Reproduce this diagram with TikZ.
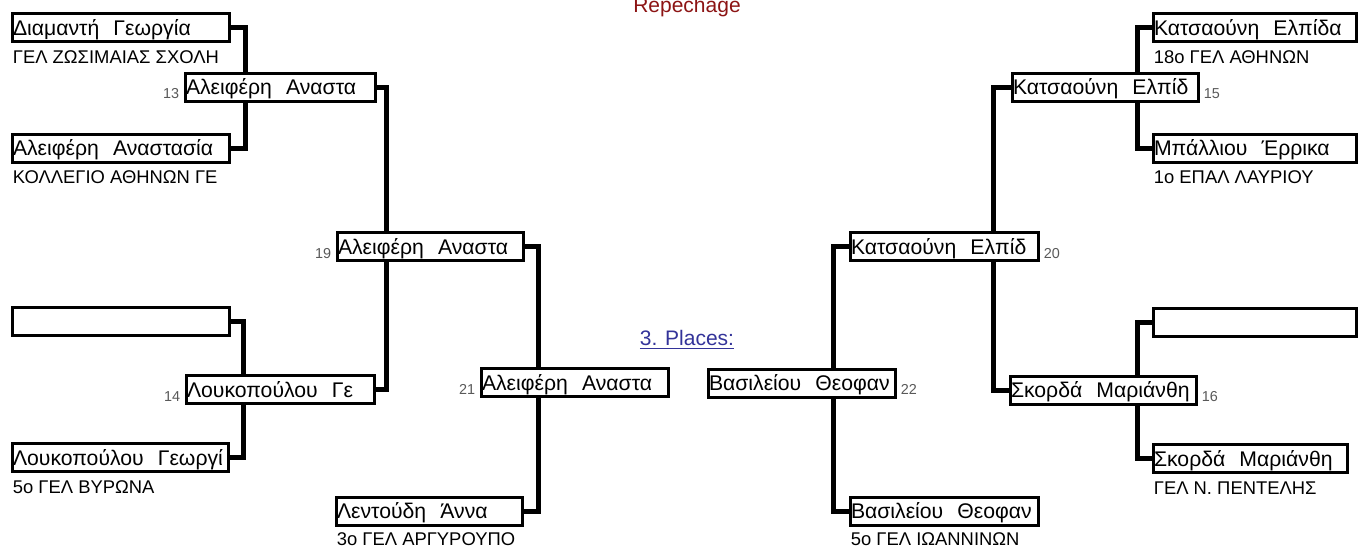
\documentclass[tikz,border=0pt]{standalone}
\usepackage{fontspec}
\setmainfont{Liberation Sans}
\usetikzlibrary{backgrounds}
\definecolor{repred}{RGB}{140,20,20}
\definecolor{placeblue}{RGB}{51,51,153}
\def\unit{0.5pt}

\begin{document}
\begin{tikzpicture}[x=\unit, y=-\unit,
    player/.style={draw, fill=white, line width=1.5pt, anchor=west, minimum height=14pt,
      inner xsep=0.5pt, inner ysep=0pt, text width=#1, align=left,
      text height=8.6pt, text depth=1pt, font=\fontsize{10.6}{12}\selectfont},
    school/.style={anchor=base west, inner sep=0pt, font=\fontsize{9.2}{10}\selectfont},
    seedleft/.style={anchor=base east, inner sep=0pt, text=black!65, font=\fontsize{7.2}{8}\selectfont},
    seedright/.style={anchor=base west, inner sep=0pt, text=black!65, font=\fontsize{7.2}{8}\selectfont},
    link/.style={line width=2.5pt}]
      \useasboundingbox (0,0) rectangle (1365,547);
      \node[anchor=base, text=repred, font=\fontsize{10.5}{12}\selectfont] (rep) at (687, 12) {Repechage};
      \node[anchor=base, text=placeblue, font=\fontsize{10.5}{12}\selectfont] (places) at (687, 345) {\underline{3. Places:}};
      % left half
      \node[player=107.5pt] (p1) at (10.5, 27.5) {Διαμαντή~~Γεωργία};
      \node[player=107.5pt] (p2) at (10.5, 148) {Αλειφέρη~~Αναστασία};
      \node[player=107.5pt] (p3) at (10.5, 321.5) {};
      \node[player=107pt] (p4) at (10.5, 457.5) {Λουκοπούλου~~Γεωργί};
      \node[player=94pt] (w13) at (183.5, 87) {Αλειφέρη~~Αναστα};
      \node[player=93pt] (w14) at (184.5, 389.5) {Λουκοπούλου~~Γε};
      \node[player=92pt] (w19) at (335.5, 246.5) {Αλειφέρη~~Αναστα};
      \node[player=92pt] (p5) at (334.5, 511) {Λεντούδη~~Άννα};
      \node[player=92.5pt] (w21) at (479.5, 382.5) {Αλειφέρη~~Αναστα};
      % right half
      \node[player=100.5pt] (p6) at (1151.5, 27.5) {Κατσαούνη~~Ελπίδα};
      \node[player=100.5pt] (p7) at (1151.5, 148) {Μπάλλιου~~Έρρικα};
      \node[player=100.5pt] (p8) at (1151.5, 322.5) {};
      \node[player=96pt] (p9) at (1151.5, 458.5) {Σκορδά~~Μαριάνθη};
      \node[player=92pt] (w15) at (1010.5, 87) {Κατσαούνη~~Ελπίδ};
      \node[player=92pt] (w16) at (1008.5, 390) {Σκορδά~~Μαριάνθη};
      \node[player=93pt] (w20) at (848.5, 246.5) {Κατσαούνη~~Ελπίδ};
      \node[player=93pt] (p10) at (848.5, 511) {Βασιλείου~~Θεοφαν};
      \node[player=92.5pt] (w22) at (706.5, 383) {Βασιλείου~~Θεοφαν};
      % schools
      \node[school] (s1) at ([xshift=1pt,yshift=-10pt]p1.south west) {ΓΕΛ ΖΩΣΙΜΑΙΑΣ ΣΧΟΛΗ};
      \node[school] (s2) at ([xshift=1pt,yshift=-10pt]p2.south west) {ΚΟΛΛΕΓΙΟ ΑΘΗΝΩΝ ΓΕ};
      \node[school] (s4) at ([xshift=1pt,yshift=-10pt]p4.south west) {5ο ΓΕΛ ΒΥΡΩΝΑ};
      \node[school] (s5) at ([xshift=1pt,yshift=-9.5pt]p5.south west) {3ο ΓΕΛ ΑΡΓΥΡΟΥΠΟ};
      \node[school] (s6) at ([xshift=1pt,yshift=-10pt]p6.south west) {18ο ΓΕΛ ΑΘΗΝΩΝ};
      \node[school] (s7) at ([xshift=1pt,yshift=-10pt]p7.south west) {1ο ΕΠΑΛ ΛΑΥΡΙΟΥ};
      \node[school] (s9) at ([xshift=1pt,yshift=-10pt]p9.south west) {ΓΕΛ Ν. ΠΕΝΤΕΛΗΣ};
      \node[school] (s10) at ([xshift=1pt,yshift=-9.5pt]p10.south west) {5ο ΓΕΛ ΙΩΑΝΝΙΝΩΝ};
      % match numbers
      \node[seedleft] (n13) at ([xshift=-2pt,yshift=2pt]w13.south west) {13};
      \node[seedleft] (n14) at ([xshift=-2pt,yshift=2pt]w14.south west) {14};
      \node[seedleft] (n19) at ([xshift=-2pt,yshift=2pt]w19.south west) {19};
      \node[seedleft] (n21) at ([xshift=-2pt,yshift=2pt]w21.south west) {21};
      \node[seedright] (n15) at ([xshift=2pt,yshift=2pt]w15.south east) {15};
      \node[seedright] (n16) at ([xshift=2pt,yshift=2pt]w16.south east) {16};
      \node[seedright] (n20) at ([xshift=2pt,yshift=2pt]w20.south east) {20};
      \node[seedright] (n22) at ([xshift=2pt,yshift=2pt]w22.south east) {22};
      % bracket joints
      \coordinate (j13) at (245, 87);
      \coordinate (j14) at (243, 389.5);
      \coordinate (j19) at (386.5, 246.5);
      \coordinate (j21) at (538, 382.5);
      \coordinate (j15) at (1137, 87);
      \coordinate (j16) at (1137, 390);
      \coordinate (j20) at (993, 246.5);
      \coordinate (j22) at (833, 383);
      \begin{pgfonlayer}{background}
        \draw[link] (p1.east) -| (j13) |- (p2.east);
        \draw[link] (p3.east) -| (j14) |- (p4.east);
        \draw[link] (w13.east) -| (j19) |- (w14.east);
        \draw[link] (w19.east) -| (j21) |- (p5.east);
        \draw[link] (p6.west) -| (j15) |- (p7.west);
        \draw[link] (p8.west) -| (j16) |- (p9.west);
        \draw[link] (w15.west) -| (j20) |- (w16.west);
        \draw[link] (w20.west) -| (j22) |- (p10.west);
      \end{pgfonlayer}
    \end{tikzpicture}
\end{document}
